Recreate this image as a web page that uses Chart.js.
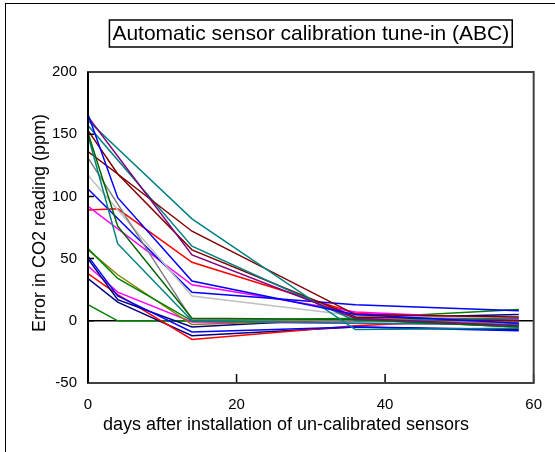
<!DOCTYPE html>
<html>
<head>
<meta charset="utf-8">
<script src="https://cdn.jsdelivr.net/npm/chart.js@4.4.0/dist/chart.umd.min.js"></script>
<style>
html, body { margin: 0; padding: 0; background: #fff; overflow: hidden; }
canvas { display: block; }
</style>
</head>
<body>
<canvas id="chart" width="555" height="452"></canvas>
<script>
// days on which the sensors were read
var days = [0, 4, 14, 36, 58];

// error (ppm) for each sensor, null = no reading that day
var s01 = [166, 99, 32, 5, -2];
var s02 = [164, null, 53, 2, -4];
var s03 = [161, null, 82, -7, -6];
var s04 = [153, 118, 72, 5, 3];
var s05 = [151, 76, 2, 1, -5];
var s06 = [157, null, 60, 0, 2];
var s07 = [149, 62, 0, -2, -3];
var s08 = [136, 118, 57, 3, 0];
var s09 = [131, null, 1, 0, -1];
var s10 = [117, null, 20, 4, 2];
var s11 = [106, null, 23, 13, 8];
var s12 = [92, null, 29, 7, 1];
var s13 = [89, 90, 47, 6, 0];
var s14 = [58, 34, 0, 2, 9];
var s15 = [57, 37, -3, 1, -2];
var s16 = [52, 20, -9, -5, -8];
var s17 = [50, 17, -5, 2, 5];
var s18 = [44, 23, -1, -2, -3];
var s19 = [38, 21, -15, -4, 2];
var s20 = [34, 15, -12, -5, -7];
var s21 = [13, 0, 0, 1, -5];

var sensors = [s01, s02, s03, s04, s05, s06, s07, s08, s09, s10, s11,
               s12, s13, s14, s15, s16, s17, s18, s19, s20, s21];
var colors = ['#0000ff', '#800080', '#008080', '#800000', '#006400', '#008080', '#008080',
              '#800000', '#808080', '#c0c0c0', '#0000ff', '#ff00ff', '#ff0000', '#008000',
              '#808000', '#0000ff', '#000080', '#ff00ff', '#ff0000', '#000080', '#008000'];

var yTicks = [-50, 0, 50, 100, 150, 200];
var xTicks = [0, 20, 40, 60];

var datasets = sensors.map(function(vals, i) {
    var pts = [];
    vals.forEach(function(v, j) {
        if (v !== null) pts.push({x: days[j], y: v});
    });
    return {
        data: pts,
        borderColor: colors[i],
        backgroundColor: colors[i],
        borderWidth: 1.5,
        pointRadius: 0,
        tension: 0,
        fill: false
    };
});

var FONT = '"Liberation Sans", Arial, sans-serif';

var decor = {
    id: 'decor',
    beforeDraw: function(chart) {
        var ctx = chart.ctx;
        ctx.save();
        ctx.fillStyle = '#fff';
        ctx.fillRect(0, 0, chart.width, chart.height);
        ctx.strokeStyle = '#000';
        ctx.lineWidth = 1;
        ctx.strokeRect(5.5, 3.5, 800, 800);
        ctx.restore();
    },
    beforeDatasetsDraw: function(chart) {
        var ctx = chart.ctx, a = chart.chartArea;
        var y0 = chart.scales.y.getPixelForValue(0);
        ctx.save();
        ctx.strokeStyle = '#000';
        ctx.lineWidth = 1.5;
        ctx.beginPath();
        ctx.moveTo(a.left, y0);
        ctx.lineTo(a.right, y0);
        ctx.stroke();
        ctx.restore();
    },
    afterDraw: function(chart) {
        var ctx = chart.ctx, a = chart.chartArea;
        var xs = chart.scales.x, ys = chart.scales.y;
        ctx.save();
        // inside ticks
        ctx.strokeStyle = '#000';
        ctx.lineWidth = 1.5;
        ctx.beginPath();
        yTicks.forEach(function(v) {
            var p = ys.getPixelForValue(v);
            ctx.moveTo(a.left, p);
            ctx.lineTo(a.left + 6, p);
        });
        xTicks.forEach(function(v) {
            var p = xs.getPixelForValue(v);
            ctx.moveTo(p, a.bottom);
            ctx.lineTo(p, a.bottom - 9);
        });
        ctx.stroke();
        // plot border
        ctx.strokeStyle = '#404040';
        ctx.lineWidth = 2;
        ctx.strokeRect(a.left, a.top, a.right - a.left, a.bottom - a.top);
        ctx.strokeStyle = '#000';
        ctx.beginPath();
        ctx.moveTo(a.left, a.top);
        ctx.lineTo(a.left, a.bottom);
        ctx.stroke();

        // title in a box
        var cx = (a.left + a.right) / 2;
        ctx.font = '21px ' + FONT;
        ctx.fillStyle = '#000';
        ctx.textAlign = 'center';
        ctx.textBaseline = 'middle';
        var t = 'Automatic sensor calibration tune-in (ABC)';
        var w = ctx.measureText(t).width;
        ctx.fillText(t, cx, 34);
        ctx.lineWidth = 1.5;
        ctx.strokeRect(cx - w / 2 - 3, 20, w + 6, 27);

        // axis titles
        ctx.font = '18px ' + FONT;
        ctx.fillText('days after installation of un-calibrated sensors', 286, 425);
        ctx.translate(40, 223);
        ctx.rotate(-Math.PI / 2);
        ctx.fillText('Error in CO2 reading (ppm)', 0, 0);
        ctx.restore();
    }
};

new Chart(document.getElementById('chart'), {
    type: 'line',
    data: { datasets: datasets },
    options: {
        responsive: false,
        animation: false,
        layout: { padding: { top: 72, right: 14, left: 0, bottom: 0 } },
        plugins: {
            legend: { display: false },
            title: { display: false },
            tooltip: { enabled: false }
        },
        scales: {
            x: {
                type: 'linear',
                min: 0,
                max: 60,
                grid: { display: false, drawTicks: false },
                border: { display: false },
                afterFit: function(s) { s.height = 69; },
                ticks: {
                    stepSize: 20,
                    padding: 13,
                    color: '#000',
                    font: { family: FONT, size: 15 },
                    maxRotation: 0
                }
            },
            y: {
                min: -50,
                max: 200,
                grid: { display: false, drawTicks: false },
                border: { display: false },
                afterFit: function(s) { s.width = 88; },
                ticks: {
                    stepSize: 50,
                    padding: 11,
                    color: '#000',
                    font: { family: FONT, size: 15 }
                }
            }
        }
    },
    plugins: [decor]
});
</script>
</body>
</html>
